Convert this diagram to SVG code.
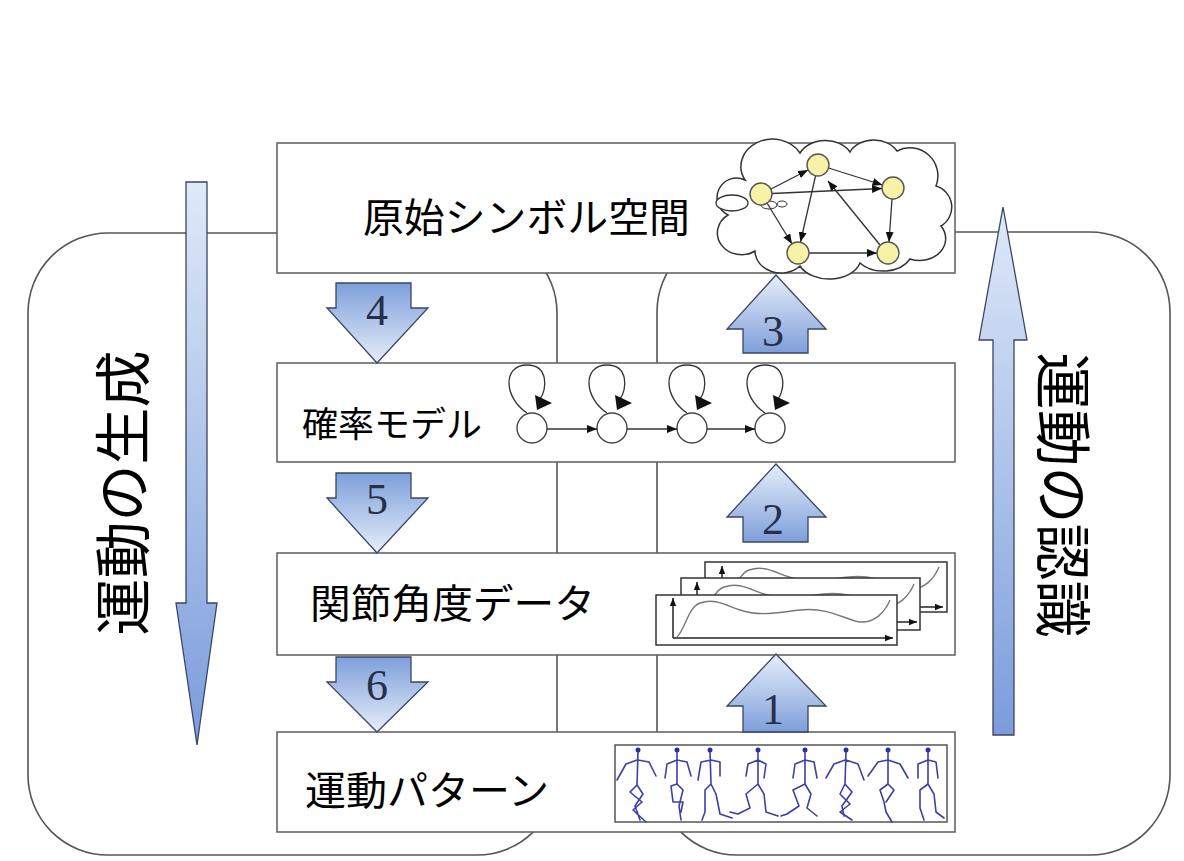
<svg xmlns="http://www.w3.org/2000/svg" width="1184" height="861" viewBox="0 0 1184 861">
  <style>
    .frame { fill: none; stroke: #555; stroke-width: 1.6; }
    .box { fill: #fff; stroke: #666; stroke-width: 1.6; }
    .label { font-family: "Noto Sans CJK JP", "Noto Sans", sans-serif; fill: #000; }
    .num { font-family: "Liberation Serif", serif; font-size: 44px; fill: #2a2f48; text-anchor: middle; }
    .blk { stroke: #3a4560; stroke-width: 1.3; }
    .edge { fill: none; stroke: #333; stroke-width: 1.3; }
    .state { fill: #fff; stroke: #444; stroke-width: 1.4; }
    .node { fill: #f7f2a6; stroke: #555; stroke-width: 1.4; }
    .plot { fill: #fff; stroke: #333; stroke-width: 1.5; }
    .axis { fill: none; stroke: #222; stroke-width: 1.5; }
    .wave { fill: none; stroke: #777; stroke-width: 1.4; }
    .fig { fill: none; stroke: #3b3fa8; stroke-width: 1.6; stroke-linejoin: round; stroke-linecap: round; }
    .head { fill: #2c30a0; }
  </style>
  <defs>
    <linearGradient id="gDown" x1="0" y1="0" x2="0" y2="1">
      <stop offset="0" stop-color="#7e9fdb"/>
      <stop offset="1" stop-color="#e6eef9"/>
    </linearGradient>
    <linearGradient id="gUp" x1="0" y1="0" x2="0" y2="1">
      <stop offset="0" stop-color="#e6eef9"/>
      <stop offset="1" stop-color="#7e9fdb"/>
    </linearGradient>
    <linearGradient id="gTall" x1="0" y1="0" x2="0" y2="1">
      <stop offset="0" stop-color="#dfe9f8"/>
      <stop offset="1" stop-color="#7b9cdb"/>
    </linearGradient>
    <marker id="tri" viewBox="0 0 10 8" refX="10" refY="4" markerWidth="10" markerHeight="8" markerUnits="userSpaceOnUse" orient="auto">
      <path d="M0,0 L10,4 L0,8 z" fill="#111"/>
    </marker>
    <marker id="triS" viewBox="0 0 10 8" refX="10" refY="4" markerWidth="8" markerHeight="7" markerUnits="userSpaceOnUse" orient="auto">
      <path d="M0,0 L10,4 L0,8 z" fill="#111"/>
    </marker>
  </defs>

  <rect width="1184" height="861" fill="#fff"/>

  <!-- two rounded regions behind the layer boxes -->
  <g id="regions">
    <rect class="frame" x="28" y="233" width="529" height="622" rx="80" ry="80"/>
    <rect class="frame" x="657" y="232" width="513" height="623" rx="80" ry="80"/>
  </g>

  <!-- layer: primitive symbol space -->
  <g id="symbol-space">
    <rect class="box" x="277" y="143" width="678" height="130"/>
    <text class="label" x="363" y="232" font-size="40" textLength="327" lengthAdjust="spacingAndGlyphs">原始シンボル空間</text>
    <path d="M728,215 A18,18 0 0 1 745,180 A30,26 0 0 1 800,153 A28,22 0 0 1 850,152 A26,20 0 0 1 897,151 A28,28 0 0 1 936,186 A22,22 0 0 1 941,226 A26,22 0 0 1 910,259 A30,22 0 0 1 860,263 A32,22 0 0 1 800,266 A26,22 0 0 1 755,251 A20,18 0 0 1 728,215 Z" fill="#fff" stroke="#333" stroke-width="1.5"/>
    <ellipse cx="732" cy="203" rx="16" ry="8" fill="#fff" stroke="#333" stroke-width="1.3"/>
    <ellipse cx="769" cy="205" rx="8" ry="4" fill="#fff" stroke="#333" stroke-width="1"/>
    <ellipse cx="782" cy="204" rx="5" ry="3" fill="#fff" stroke="#333" stroke-width="1"/>
    <g>
      <line class="edge" x1="771" y1="189" x2="808" y2="170" marker-end="url(#tri)"/>
      <line class="edge" x1="772" y1="193.5" x2="882" y2="188.5" marker-end="url(#tri)"/>
      <line class="edge" x1="767" y1="203" x2="792" y2="244" marker-end="url(#tri)"/>
      <line class="edge" x1="828.5" y1="168" x2="882.5" y2="185" marker-end="url(#tri)"/>
      <line class="edge" x1="815.5" y1="176" x2="800.5" y2="242" marker-end="url(#tri)"/>
      <line class="edge" x1="880" y1="245" x2="828" y2="181" marker-end="url(#tri)"/>
      <line class="edge" x1="892" y1="199" x2="889" y2="242" marker-end="url(#tri)"/>
      <line class="edge" x1="809" y1="253" x2="877" y2="253" marker-end="url(#tri)"/>
    </g>
    <circle class="node" cx="761" cy="194" r="11"/>
    <circle class="node" cx="818" cy="165" r="11"/>
    <circle class="node" cx="893" cy="188" r="11"/>
    <circle class="node" cx="798" cy="253" r="11"/>
    <circle class="node" cx="888" cy="253" r="11"/>
  </g>

  <!-- layer: probabilistic model -->
  <g id="prob-model">
    <rect class="box" x="277" y="363" width="678" height="99"/>
    <text class="label" x="302" y="437" font-size="35" textLength="180" lengthAdjust="spacingAndGlyphs">確率モデル</text>
    <g id="chain">
      <g transform="translate(532,0)">
        <path class="edge" d="M-5,413 C-28,398 -30,365 -5,365 C17,365 15,390 8,399"/>
        <path d="M3,395 L20,403 L5,410 z" fill="#111"/>
        <circle class="state" cx="0" cy="428" r="15"/>
      </g>
      <g transform="translate(612,0)">
        <path class="edge" d="M-5,413 C-28,398 -30,365 -5,365 C17,365 15,390 8,399"/>
        <path d="M3,395 L20,403 L5,410 z" fill="#111"/>
        <circle class="state" cx="0" cy="428" r="15"/>
      </g>
      <g transform="translate(692,0)">
        <path class="edge" d="M-5,413 C-28,398 -30,365 -5,365 C17,365 15,390 8,399"/>
        <path d="M3,395 L20,403 L5,410 z" fill="#111"/>
        <circle class="state" cx="0" cy="428" r="15"/>
      </g>
      <g transform="translate(770,0)">
        <path class="edge" d="M-5,413 C-28,398 -30,365 -5,365 C17,365 15,390 8,399"/>
        <path d="M3,395 L20,403 L5,410 z" fill="#111"/>
        <circle class="state" cx="0" cy="428" r="15"/>
      </g>
      <line class="edge" x1="547" y1="429" x2="597" y2="429" marker-end="url(#tri)"/>
      <line class="edge" x1="627" y1="429" x2="677" y2="429" marker-end="url(#tri)"/>
      <line class="edge" x1="707" y1="429" x2="755" y2="429" marker-end="url(#tri)"/>
    </g>
  </g>

  <!-- layer: joint angle data -->
  <g id="joint-data">
    <rect class="box" x="277" y="553" width="678" height="102"/>
    <text class="label" x="310" y="618" font-size="40" textLength="285" lengthAdjust="spacingAndGlyphs">関節角度データ</text>
    <g id="plot-back">
      <rect class="plot" x="705" y="562" width="242" height="50"/>
      <line class="axis" x1="722" y1="607" x2="722" y2="566" marker-end="url(#triS)"/>
      <line class="axis" x1="722" y1="607" x2="943" y2="607" marker-end="url(#triS)"/>
      <path class="wave" d="M726,604 C734,597 737,574 749,570 C764,565 774,572 789,577 C809,584 829,579 849,577 C879,574 894,587 909,589 C924,590 934,579 939,567"/>
    </g>
    <g id="plot-mid">
      <rect class="plot" x="681" y="578" width="239" height="52"/>
      <line class="axis" x1="697" y1="622" x2="697" y2="582" marker-end="url(#triS)"/>
      <line class="axis" x1="697" y1="622" x2="917" y2="622" marker-end="url(#triS)"/>
      <path class="wave" d="M701,619 C709,612 712,591 724,587 C739,582 749,589 764,594 C784,601 804,596 824,594 C854,591 869,604 884,606 C899,607 909,596 914,584"/>
    </g>
    <g id="plot-front">
      <rect class="plot" x="656" y="595" width="241" height="50"/>
      <line class="axis" x1="673" y1="638" x2="673" y2="598" marker-end="url(#triS)"/>
      <line class="axis" x1="673" y1="638" x2="893" y2="638" marker-end="url(#triS)"/>
      <path class="wave" d="M677,637 C685,630 688,607 700,603 C715,598 725,605 740,610 C760,617 780,612 800,610 C830,607 845,620 860,622 C875,623 885,612 890,600"/>
    </g>
  </g>

  <!-- layer: motion pattern -->
  <g id="motion-pattern">
    <rect class="box" x="277" y="732" width="678" height="100"/>
    <text class="label" x="305" y="805" font-size="40" textLength="244" lengthAdjust="spacingAndGlyphs">運動パターン</text>
    <rect x="615" y="745" width="332" height="77" fill="#fff" stroke="#555" stroke-width="1.5"/>
    <g id="dancers">
      <g transform="translate(638,750)">
        <circle class="head" cx="0" cy="0" r="2.5"/>
        <path class="fig" d="M0,2 L-1,35 M-1,10 L-12,14 L-21,30 M0,10 L11,12 L18,26 M-1,35 L-8,42 L4,52 L-5,60 L8,72 M-1,35 L5,44 L-3,56 L2,70"/>
      </g>
      <g transform="translate(677,750)">
        <circle class="head" cx="0" cy="0" r="2.5"/>
        <path class="fig" d="M0,2 L0,34 M0,10 L-10,14 L-12,28 M0,10 L10,12 L14,26 M0,34 L-6,36 L-4,52 L6,52 L4,62 M0,34 L6,40 L2,56 L4,70"/>
      </g>
      <g transform="translate(710,750)">
        <circle class="head" cx="0" cy="0" r="2.5"/>
        <path class="fig" d="M0,2 L1,34 M1,10 L-9,12 L-12,30 M1,10 L10,12 L10,26 M1,34 L-5,40 L-5,62 L-8,70 M1,34 L6,44 L10,64 L22,68"/>
      </g>
      <g transform="translate(758,750)">
        <circle class="head" cx="0" cy="0" r="2.5"/>
        <path class="fig" d="M0,2 L0,34 M0,10 L-10,14 L-12,26 M0,10 L8,14 L6,28 M0,34 L-12,44 L-8,58 L-20,64 L-28,62 M0,34 L6,44 L8,62 L20,66"/>
      </g>
      <g transform="translate(805,750)">
        <circle class="head" cx="0" cy="0" r="2.5"/>
        <path class="fig" d="M0,2 L0,34 M0,10 L-10,14 L-12,28 M0,10 L9,12 L12,28 M0,34 L-12,40 L-6,56 L-18,64 L-24,66 M0,34 L6,44 L2,58 L12,66"/>
      </g>
      <g transform="translate(846,750)">
        <circle class="head" cx="0" cy="0" r="2.5"/>
        <path class="fig" d="M0,2 L-1,34 M-1,10 L-12,14 L-20,28 M0,10 L12,14 L18,30 M-1,34 L-6,44 L4,54 L-6,62 L6,70 M-1,34 L6,42 L-4,56 L-2,66"/>
      </g>
      <g transform="translate(888,750)">
        <circle class="head" cx="0" cy="0" r="2.5"/>
        <path class="fig" d="M0,2 L0,34 M0,10 L-10,12 L-20,26 M0,10 L12,14 L20,28 M0,34 L-8,40 L-4,52 L-2,62 L4,72 M0,34 L6,40 L-2,52"/>
      </g>
      <g transform="translate(928,750)">
        <circle class="head" cx="0" cy="0" r="2.5"/>
        <path class="fig" d="M0,2 L0,34 M0,10 L-10,14 L-10,28 M0,10 L8,12 L10,28 M0,34 L-8,40 L-8,58 L-4,70 M0,34 L6,44 L8,62 L16,68"/>
      </g>
    </g>
  </g>

  <!-- step arrows between layers -->
  <g id="connectors">
    <g id="step-4">
      <path class="blk" fill="url(#gDown)" d="M336,283 L411,283 L411,308 L428,308 L377,363 L327,308 L336,308 Z"/>
      <text class="num" x="377" y="325">4</text>
    </g>
    <g id="step-5">
      <path class="blk" fill="url(#gDown)" d="M336,473 L411,473 L411,498 L428,498 L377,553 L327,498 L336,498 Z"/>
      <text class="num" x="377" y="514">5</text>
    </g>
    <g id="step-6">
      <path class="blk" fill="url(#gDown)" d="M336,657 L411,657 L411,682 L428,682 L377,732 L327,682 L336,682 Z"/>
      <text class="num" x="377" y="700">6</text>
    </g>
    <g id="step-3">
      <path class="blk" fill="url(#gUp)" d="M743,353 L808,353 L808,329 L826,329 L776,275 L727,329 L743,329 Z"/>
      <text class="num" x="773" y="346">3</text>
    </g>
    <g id="step-2">
      <path class="blk" fill="url(#gUp)" d="M743,542 L808,542 L808,517 L826,517 L776,464 L727,517 L743,517 Z"/>
      <text class="num" x="773" y="534">2</text>
    </g>
    <g id="step-1">
      <path class="blk" fill="url(#gUp)" d="M743,732 L808,732 L808,706 L826,706 L776,654 L727,706 L743,706 Z"/>
      <text class="num" x="773" y="724">1</text>
    </g>
    <!-- long side arrows -->
    <g id="generation-arrow">
      <path class="blk" fill="url(#gTall)" d="M186,182 L207,182 L207,603 L217,603 L197,745 L176,603 L186,603 Z"/>
    </g>
    <g id="recognition-arrow">
      <path class="blk" fill="url(#gTall)" d="M993,735 L1014,735 L1014,340 L1027,340 L1003,207 L979,340 L993,340 Z"/>
    </g>
  </g>

  <!-- side captions -->
  <g id="caption-generation">
    <text class="label" transform="translate(144,493) rotate(-90)" x="0" y="0" font-size="57" text-anchor="middle">運動の生成</text>
  </g>
  <g id="caption-recognition">
    <text class="label" transform="translate(1042,495) rotate(90)" x="0" y="0" font-size="57" text-anchor="middle">運動の認識</text>
  </g>
</svg>
